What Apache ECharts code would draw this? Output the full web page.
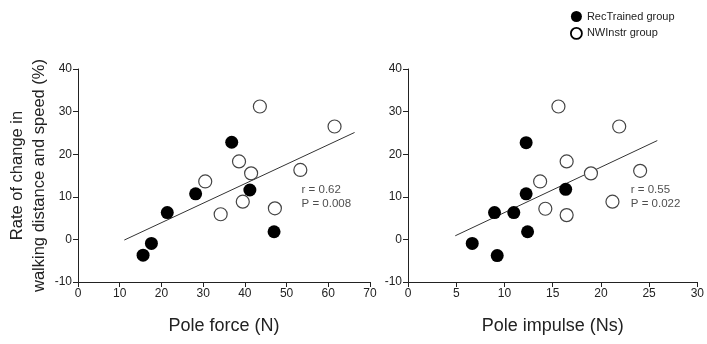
<!DOCTYPE html>
<html>
<head>
<meta charset="utf-8">
<script src="https://cdn.jsdelivr.net/npm/echarts@6/dist/echarts.min.js"></script>
<style>
  html, body { margin: 0; padding: 0; background: #fff; }
  #chart { width: 707px; height: 344px; }
</style>
</head>
<body>
<div id="chart"></div>
<script>
// pole force (N) vs rate of change (%)
const forceRec = [[15.6, -3.7], [17.6, -0.95], [21.4, 6.3], [28.2, 10.7], [36.85, 22.8], [41.2, 11.6], [47.0, 1.8]];
const forceNW = [[30.5, 13.6], [34.2, 5.9], [38.6, 18.3], [39.5, 8.85], [41.5, 15.5], [43.6, 31.2], [47.2, 7.3], [53.3, 16.3], [61.5, 26.5]];
const forceFit = [[11.1, -0.15], [66.3, 25.1]];

// pole impulse (Ns) vs rate of change (%)
const impulseRec = [[6.66, -0.95], [9.25, -3.8], [8.97, 6.3], [10.97, 6.3], [12.25, 10.7], [12.25, 22.7], [12.4, 1.8], [16.35, 11.75]];
const impulseNW = [[13.7, 13.6], [14.24, 7.2], [15.6, 31.2], [16.45, 18.3], [16.45, 5.7], [18.97, 15.5], [21.2, 8.85], [21.9, 26.5], [24.07, 16.1]];
const impulseFit = [[4.9, 0.85], [25.85, 23.2]];

const yTicks = [-10, 0, 10, 20, 30, 40];
const statsForce = 'r = 0.62\nP = 0.008';
const statsImpulse = 'r = 0.55\nP = 0.022';

const FONT = 'Liberation Sans, Arial, sans-serif';

const axisCommon = {
  axisLine: { show: true, onZero: false, lineStyle: { color: '#222', width: 1 } },
  axisTick: { show: true, length: 5, lineStyle: { color: '#222' } },
  axisLabel: { color: '#222', fontSize: 12, fontFamily: FONT, margin: 6 },
  splitLine: { show: false },
};

const recStyle = { color: '#000', opacity: 1 };
const nwStyle = { color: '#fff', borderColor: '#444', borderWidth: 1.2, opacity: 1 };

function scatter(name, data, idx, style) {
  return {
    name: name,
    type: 'scatter',
    xAxisIndex: idx,
    yAxisIndex: idx,
    symbolSize: 13,
    itemStyle: style,
    data: data,
    z: name.startsWith('Rec') ? 4 : 3,
  };
}

function fitLine(data, idx) {
  return {
    type: 'line',
    xAxisIndex: idx,
    yAxisIndex: idx,
    data: data,
    symbol: 'none',
    lineStyle: { color: '#333', width: 1 },
    z: 2,
  };
}

function stats(text, pos, idx) {
  return {
    type: 'scatter',
    xAxisIndex: idx,
    yAxisIndex: idx,
    symbolSize: 0,
    data: [pos],
    label: {
      show: true,
      position: 'right',
      distance: 0,
      formatter: text,
      color: '#222',
      fontSize: 11.5,
      lineHeight: 14,
      fontFamily: FONT,
    },
  };
}

const option = {
  animation: false,
  textStyle: { fontFamily: FONT },
  legend: {
    orient: 'vertical',
    left: 565,
    top: 6,
    itemWidth: 11,
    itemHeight: 11,
    itemGap: 5,
    textStyle: { fontSize: 11, color: '#222', fontFamily: FONT },
    data: [
      { name: 'RecTrained group', icon: 'circle', itemStyle: { color: '#000', opacity: 1 } },
      { name: 'NWInstr group', icon: 'circle', itemStyle: { color: '#fff', borderColor: '#000', borderWidth: 1.8, opacity: 1 } },
    ],
  },
  grid: [
    { left: 78, top: 69, width: 292, height: 213 },
    { left: 408, top: 69, width: 290, height: 213 },
  ],
  xAxis: [
    Object.assign({}, axisCommon, {
      gridIndex: 0, type: 'value', min: 0, max: 70, interval: 10,
      name: 'Pole force (N)', nameLocation: 'middle', nameGap: 35,
      nameTextStyle: { fontSize: 18, color: '#222', fontFamily: FONT },
    }),
    Object.assign({}, axisCommon, {
      gridIndex: 1, type: 'value', min: 0, max: 30, interval: 5,
      name: 'Pole impulse (Ns)', nameLocation: 'middle', nameGap: 35,
      nameTextStyle: { fontSize: 18, color: '#222', fontFamily: FONT },
    }),
  ],
  yAxis: [
    Object.assign({}, axisCommon, {
      gridIndex: 0, type: 'value', min: yTicks[0], max: yTicks[yTicks.length - 1], interval: 10,
      name: 'Rate of change in\nwalking distance and speed (%)', nameLocation: 'middle', nameGap: 22,
      nameTextStyle: { fontSize: 16.5, lineHeight: 22.5, color: '#222', fontFamily: FONT },
    }),
    Object.assign({}, axisCommon, {
      gridIndex: 1, type: 'value', min: yTicks[0], max: yTicks[yTicks.length - 1], interval: 10,
    }),
  ],
  series: [
    fitLine(forceFit, 0),
    scatter('RecTrained group', forceRec, 0, recStyle),
    scatter('NWInstr group', forceNW, 0, nwStyle),
    stats(statsForce, [53.6, 10.1], 0),
    fitLine(impulseFit, 1),
    scatter('RecTrained group', impulseRec, 1, recStyle),
    scatter('NWInstr group', impulseNW, 1, nwStyle),
    stats(statsImpulse, [23.1, 10.1], 1),
  ],
};

const myChart = echarts.init(document.getElementById('chart'));
myChart.setOption(option);
</script>
</body>
</html>
